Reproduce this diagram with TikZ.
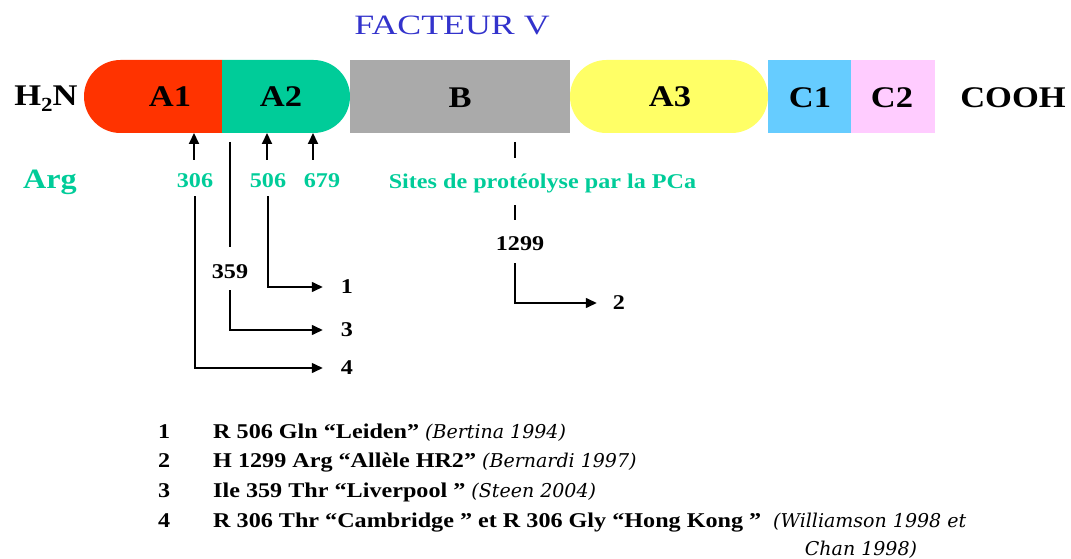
\documentclass[tikz,border=0pt]{standalone}
\usepackage{fontspec}
\setmainfont{Liberation Serif}[FakeStretch=1.15]
\newfontfamily\titlefont{Liberation Serif}[FakeStretch=1.28]
\newfontfamily\reffont{DejaVu Serif}
\usetikzlibrary{shapes.misc,arrows.meta}
\definecolor{cRed}{HTML}{FF3300}
\definecolor{cGreen}{HTML}{00CC99}
\definecolor{cGray}{HTML}{AAAAAA}
\definecolor{cYellow}{HTML}{FFFF66}
\definecolor{cCyan}{HTML}{66CCFF}
\definecolor{cPink}{HTML}{FFCCFF}
\definecolor{cBlue}{HTML}{3333CC}
\newcommand\fsz[2]{\fontsize{#1}{#2}\selectfont}
\newcommand\refsty{\fsz{19}{28}\reffont\mdseries\itshape}
\begin{document}
\begin{tikzpicture}[x=1pt,y=-1pt,
  dom/.style={draw=none, inner sep=0pt, outer sep=0pt, minimum height=73pt, anchor=west},
  domlab/.style={inner sep=0pt, anchor=base, font=\fsz{30}{36}\bfseries},
  num/.style={inner sep=1pt, anchor=base, font=\fsz{21}{25}\bfseries},
  gnum/.style={num, text=cGreen},
  tgt/.style={inner sep=1pt, font=\fsz{21}{25}\bfseries},
  wire/.style={line width=1.5pt},
  upar/.style={line width=2pt, -{Triangle[length=11pt,width=10pt]}},
  rtar/.style={wire, -{Triangle[length=11pt,width=10pt]}, shorten >=17pt},
  leg/.style={inner sep=0pt, anchor=base west, font=\fsz{21}{25}\bfseries},
  refnode/.style={inner sep=0pt, font=\refsty}
]
\useasboundingbox (0,0) rectangle (1071,559);

% domains
\node[dom, rounded rectangle, rounded rectangle right arc=none, fill=cRed, minimum width=138pt] (A1) at (84,96.5) {};
\node[dom, rounded rectangle, rounded rectangle left arc=none, fill=cGreen, minimum width=128pt] (A2) at (222,96.5) {};
\node[dom, rectangle, fill=cGray, minimum width=220pt] (B) at (350,96.5) {};
\node[dom, rounded rectangle, fill=cYellow, minimum width=198pt] (A3) at (570,96.5) {};
\node[dom, rectangle, fill=cCyan, minimum width=83pt] (C1) at (768,96.5) {};
\node[dom, rectangle, fill=cPink, minimum width=84pt] (C2) at (851,96.5) {};

% domain labels
\node[domlab] (tH2N) at (46,106) {H\raisebox{-6pt}{\fsz{20}{20}2}N};
\node[domlab] (tA1) at (170,107) {A1};
\node[domlab] (tA2) at (281,107) {A2};
\node[domlab] (tB) at (460,108) {B};
\node[domlab] (tA3) at (670,107) {A3};
\node[domlab] (tC1) at (810,108) {C1};
\node[domlab] (tC2) at (892,108) {C2};
\node[domlab] (tCOOH) at (1013,108) {COOH};

% title
\node[inner sep=0pt, anchor=base, text=cBlue, font=\fsz{28}{32}\titlefont] (title) at (452,35) {FACTEUR V};

% green labels
\node[gnum, font=\fsz{28}{32}\bfseries] (arg) at (50,188) {Arg};
\node[gnum] (l306) at (195,187) {306};
\node[gnum] (l506) at (268,187) {506};
\node[gnum] (l679) at (322,187) {679};
\node[gnum] (sites) at (542.5,189) {Sites de protéolyse par la PCa};

% black labels
\node[num] (l359) at (230,278) {359};
\node[num] (l1299) at (520,250) {1299};
\node[tgt] (m1) at (347,287) {1};
\node[tgt] (m3) at (347,330) {3};
\node[tgt] (m4) at (347,368) {4};
\node[tgt] (m2) at (619,303) {2};

% arrows to the chain
\coordinate (s306) at (194,160);
\coordinate (s506) at (267,160);
\coordinate (s679) at (313,160);
\draw[upar] (s306) -- (s306 |- A1.south);
\draw[upar] (s506) -- (s506 |- A2.south);
\draw[upar] (s679) -- (s679 |- A2.south);

% mutation connectors
\draw[rtar, shorten <=8pt] (l306.south) |- (m4.west);
\draw[rtar, shorten <=8pt] (l506.south) |- (m1.west);
\coordinate (t359) at (230,142);
\draw[wire, shorten >=16pt] (t359) -- (l359.north);
\draw[rtar, shorten <=11pt] (l359.south) |- (m3.west);
\coordinate (d1) at (515,142);
\coordinate (d2) at (515,158);
\coordinate (d3) at (515,205);
\coordinate (d4) at (515,220);
\draw[wire] (d1) -- (d2);
\draw[wire] (d3) -- (d4);
\draw[rtar, shorten >=15pt, shorten <=12pt] (l1299.south -| d1) |- (m2.west);

% legend
\node[leg] (k1) at (158,438) {1};
\node[leg] (k2) at (158,467) {2};
\node[leg] (k3) at (158,497) {3};
\node[leg] (k4) at (158,527) {4};
\node[leg] (e1) at (213,438) {R 506 Gln “Leiden” {\refsty (Bertina 1994)}};
\node[leg] (e2) at (213,467) {H 1299 Arg “Allèle HR2” {\refsty (Bernardi 1997)}};
\node[leg] (e3) at (213,497) {Ile 359 Thr “Liverpool ” {\refsty (Steen 2004)}};
\node[leg] (e4) at (213,527) {R 306 Thr “Cambridge ” et R 306 Gly “Hong Kong ”};
\node[refnode, anchor=base west] (r4a) at (773,527) {(Williamson 1998 et};
\node[refnode, anchor=base] (r4b) at (861,555) {Chan 1998)};
\end{tikzpicture}
\end{document}
